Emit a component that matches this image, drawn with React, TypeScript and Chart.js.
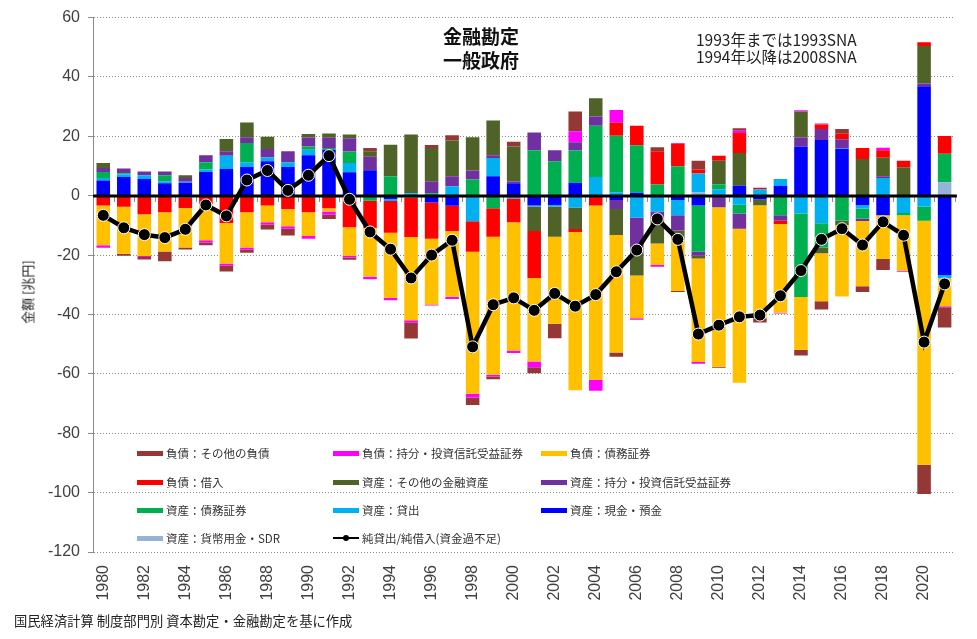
import React, { useEffect, useRef } from 'react';
import { Chart, registerables } from 'chart.js';

Chart.register(...registerables);

const years = [
  '1980', '1981', '1982', '1983', '1984', '1985', '1986', '1987', '1988', '1989',
  '1990', '1991', '1992', '1993', '1994', '1995', '1996', '1997', '1998', '1999',
  '2000', '2001', '2002', '2003', '2004', '2005', '2006', '2007', '2008', '2009',
  '2010', '2011', '2012', '2013', '2014', '2015', '2016', '2017', '2018', '2019',
  '2020', '2021',
];

// 資産：貨幣用金・SDR
const assetGoldSDR = [
  0, 0, 0, 0, 0, 0, 0, 0, 0, 0,
  0, 0, 0, 0, 0, 0, 0, 0, 0, 0,
  0, 0, 0, 0, 0, 0, 0, 0, 0, 1.2,
  0, 0, 0, 0, 0, 0, 0, 0, 0, 0,
  0, 4.5,
];
// 資産：現金・預金
const assetCash = [
  5.1, 6.3, 5.6, 4.2, 4.4, 8.0, 9.0, 9.7, 11.6, 9.7,
  13.6, 15.5, 7.9, 8.6, -1.1, 0, -2.3, -3.4, 0, 6.6,
  4.2, -3.3, -3.1, 4.4, 0, -1.4, 1.0, 0, -1.4, -3.3,
  0, 3.4, -1.3, 3.4, 16.6, 18.8, 15.8, -3.2, -6.6, 0,
  36.9, -26.7,
];
// 資産：貸出
const assetLoans = [
  0.9, 0.9, 1.3, 0.7, 0.3, 0.8, 4.5, 1.6, 1.3, 1.6,
  1.9, 0, 3.1, 0, -0.7, 0.8, 0, 3.2, -8.6, 6.1,
  -0.9, -0.3, -0.5, -4.0, 6.3, 1.2, -7.3, -5.3, -5.2, 6.3,
  2.2, -3.0, 2.2, 2.2, -6.0, -9.3, 0.3, -1.1, 6.0, -5.8,
  -3.6, -1.1,
];
// 資産：債務証券
const assetDebtSec = [
  2.0, 0.4, 0, 2.0, -0.6, 2.5, 0, 6.5, 0, 0,
  1.1, 0.6, 3.9, -1.7, 6.6, -0.7, 0.8, 0, 5.5, -4.2,
  0, 15.3, 11.6, 10.8, 17.3, 19.0, 16.0, 3.8, 9.9, -15.6,
  1.7, -3.0, 0, -6.6, -28.1, -8.1, -8.3, -3.4, 0, -0.8,
  -4.8, 9.6,
];
// 資産：持分・投資信託受益証券
const assetEquity = [
  1.3, 1.6, 1.3, 1.3, 1.3, 2.3, 1.5, 1.9, 2.8, 3.7,
  3.0, 3.4, 4.5, 4.5, 0, 0, 3.9, 3.4, 3.0, 0.9,
  0.6, 6.0, 3.7, 2.8, 3.1, -3.1, -10.2, -2.2, -5.1, -1.3,
  -3.9, -5.1, 0, -1.8, 3.0, 3.7, 2.9, -0.8, 0.6, 0,
  0.9, 0,
];
// 資産：その他の金融資産
const assetOther = [
  1.7, 0, 0, 0, 0.9, 0, 4.1, 5.0, 4.2, 0,
  1.2, 1.5, 1.2, 1.9, 10.6, 19.8, 11.4, 12.0, 11.2, 11.7,
  11.8, -8.3, -10.2, -7.2, 6.1, -8.7, -9.4, -8.6, -3.0, -0.9,
  7.9, 11.0, -1.9, 0, 8.8, -2.0, -1.6, 12.4, 6.2, 9.6,
  12.6, 0,
];
// 負債：借入
const liabBorrowing = [
  -3.3, -3.7, -6.2, -5.6, -3.5, -2.8, -9.2, -5.6, -3.3, -4.5,
  -5.6, -4.2, -10.6, -9.2, -10.7, -13.2, -12.2, -8.5, -10.3, -9.6,
  -8.0, -15.8, 0, -1.0, -3.3, 4.5, 6.6, 11.2, 7.6, 1.3,
  1.7, 6.7, 0.5, -1.1, 0, 1.5, 1.9, 3.7, 2.5, 2.2,
  1.3, 6.0,
];
// 負債：債務証券
const liabDebtSec = [
  -13.4, -15.8, -14.1, -13.2, -13.3, -12.2, -13.6, -11.8, -5.6, -5.8,
  -8.0, -1.1, -9.6, -16.4, -21.9, -28.0, -22.1, -22.1, -47.8, -46.5,
  -43.2, -28.1, -29.3, -53.3, -58.7, -39.6, -14.4, -7.2, -17.4, -34.9,
  -53.7, -51.9, -38.1, -29.9, -17.8, -16.1, -24.0, -22.0, -14.7, -18.7,
  -82.2, -9.4,
];
// 負債：持分・投資信託受益証券
const liabEquity = [
  -0.8, 0, -0.3, 0, 0, -0.8, -0.8, -0.8, -0.8, -0.8,
  -0.9, -1.1, -0.6, -0.8, -0.8, -0.9, -0.4, -0.8, -1.3, -0.6,
  -0.9, -2.0, 0, 3.7, -3.7, 4.2, -0.5, -0.6, 0.3, -0.6,
  0, 0.8, 0, -0.3, 0.4, 0.3, 0, 0, 0.9, -0.3,
  0, -0.4,
];
// 負債：その他の負債
const liabOther = [
  0, -0.7, -0.9, -3.3, -0.7, -0.9, -1.9, -1.0, -1.7, -2.3,
  0, -1.4, -0.8, 1.1, 0, -5.3, 1.0, 1.8, -2.5, -0.9,
  1.6, -2.0, -4.9, 6.7, 0, -1.4, 0, 1.3, -0.3, 3.0,
  -0.3, 0.8, -1.4, 0, -1.9, -2.8, 1.6, -1.9, -3.7, 0,
  -9.9, -6.8,
];
// 純貸出/純借入(資金過不足)
const netLending = [
  -6.6, -10.8, -13.1, -14.1, -11.3, -3.1, -6.8, 5.3, 8.5, 1.8,
  6.9, 13.5, -1.2, -12.2, -18.0, -27.7, -20.0, -15.0, -50.9, -36.7,
  -34.4, -38.6, -32.9, -37.2, -33.3, -25.6, -18.3, -7.8, -14.7, -46.6,
  -43.6, -40.8, -40.2, -33.7, -25.2, -14.7, -11.1, -16.6, -8.8, -13.3,
  -49.3, -29.7,
];

const yMin = -120;
const yMax = 60;
const yStep = 20;

const CJK = '"Noto Sans CJK JP", "Noto Sans", sans-serif';
const NUM = '"Liberation Sans", Arial, sans-serif';

const barSeries = [
  { label: '資産：貨幣用金・SDR', data: assetGoldSDR, color: '#95B3D7' },
  { label: '資産：現金・預金', data: assetCash, color: '#0000FF' },
  { label: '資産：貸出', data: assetLoans, color: '#00B0F0' },
  { label: '資産：債務証券', data: assetDebtSec, color: '#00B050' },
  { label: '資産：持分・投資信託受益証券', data: assetEquity, color: '#7030A0' },
  { label: '資産：その他の金融資産', data: assetOther, color: '#4F6228' },
  { label: '負債：借入', data: liabBorrowing, color: '#FF0000' },
  { label: '負債：債務証券', data: liabDebtSec, color: '#FFC000' },
  { label: '負債：持分・投資信託受益証券', data: liabEquity, color: '#FF00FF' },
  { label: '負債：その他の負債', data: liabOther, color: '#953735' },
];
const lineLabel = '純貸出/純借入(資金過不足)';

// legend order (row-major, 3 columns)
const legendOrder = [9, 8, 7, 6, 5, 4, 3, 2, 1, 0, 10];

const zeroLinePlugin = {
  id: 'zeroLine',
  beforeDatasetDraw(chart: any, args: any) {
    if (args.index !== barSeries.length) return;
    const { ctx, chartArea, scales } = chart;
    const y0 = Math.round(scales.y.getPixelForValue(0));
    const n = years.length;
    const w = (chartArea.right - chartArea.left) / n;
    ctx.save();
    ctx.strokeStyle = '#8c8c8c';
    ctx.lineWidth = 1;
    ctx.beginPath();
    for (let i = 0; i <= n; i++) {
      const x = Math.round(chartArea.left + i * w) + 0.5;
      ctx.moveTo(x, y0);
      ctx.lineTo(x, y0 + 6);
    }
    ctx.stroke();
    ctx.strokeStyle = '#000';
    ctx.lineWidth = 3;
    ctx.beginPath();
    ctx.moveTo(chartArea.left, y0);
    ctx.lineTo(chartArea.right + 2, y0);
    ctx.stroke();
    ctx.restore();
  },
};

export default function App() {
  const canvasRef = useRef<HTMLCanvasElement | null>(null);

  useEffect(() => {
    if (!canvasRef.current) return;
    const datasets: any[] = barSeries.map((s) => ({
      type: 'bar',
      label: s.label,
      data: s.data,
      backgroundColor: s.color,
      borderWidth: 0,
      barPercentage: 0.66,
      categoryPercentage: 1,
      stack: 'flows',
      order: 1,
    }));
    datasets.push({
      type: 'line',
      label: lineLabel,
      data: netLending,
      borderColor: '#000',
      borderWidth: 4.5,
      pointRadius: 6,
      pointBackgroundColor: '#000',
      pointBorderColor: '#ffffff',
      pointBorderWidth: 1,
      tension: 0,
      stack: 'net',
      order: 0,
    });

    const chart = new Chart(canvasRef.current, {
      type: 'bar',
      data: { labels: years, datasets },
      plugins: [zeroLinePlugin],
      options: {
        responsive: false,
        animation: false,
        layout: { padding: { left: 0, right: 16, top: 17, bottom: 0 } },
        plugins: {
          legend: { display: false },
          tooltip: { enabled: false },
        },
        scales: {
          x: {
            stacked: true,
            grid: { display: false, drawTicks: false },
            border: { display: false },
            ticks: {
              autoSkip: false,
              minRotation: 90,
              maxRotation: 90,
              padding: 13,
              color: '#404040',
              font: { family: NUM, size: 16 },
              callback: (_v: any, i: number) => (i % 2 === 0 ? years[i] : ''),
            },
            afterFit: (s: any) => {
              s.height = 87;
            },
          },
          y: {
            stacked: true,
            min: yMin,
            max: yMax,
            ticks: {
              stepSize: yStep,
              padding: 8,
              color: '#404040',
              font: { family: NUM, size: 16 },
            },
            grid: {
              color: (c: any) => (c.tick && c.tick.value === 0 ? 'rgba(0,0,0,0)' : '#8c8c8c'),
              tickColor: '#8c8c8c',
              tickLength: 5,
              lineWidth: 1,
            },
            border: { display: true, color: '#8c8c8c', width: 1, dash: [1, 2] },
            afterFit: (s: any) => {
              s.width = 93;
            },
          },
        },
      } as any,
    });
    return () => chart.destroy();
  }, []);

  const allItems = [
    ...barSeries.map((s) => ({ label: s.label, color: s.color, line: false })),
    { label: lineLabel, color: '#000', line: true },
  ];
  const colX = [137, 333, 541];
  const rowY = [453, 482, 510, 538];

  return (
    <div style={{ position: 'absolute', left: 0, top: 0, width: 977, height: 639, background: '#fff', fontFamily: CJK }}>
      <canvas ref={canvasRef} width={977} height={639} style={{ display: 'block', width: 977, height: 639 }} />
      <div style={{ position: 'absolute', left: 443, top: 24, fontSize: 19, fontWeight: 700, lineHeight: '24px', color: '#111', whiteSpace: 'nowrap' }}>
        <div>金融勘定</div>
        <div>一般政府</div>
      </div>
      <div style={{ position: 'absolute', left: 696, top: 31, fontSize: 15.5, lineHeight: '17px', color: '#222', whiteSpace: 'nowrap' }}>
        <div>1993年までは1993SNA</div>
        <div>1994年以降は2008SNA</div>
      </div>
      <div style={{ position: 'absolute', left: 27, top: 292, transform: 'translate(-50%, -50%) rotate(-90deg)', fontSize: 13, color: '#222', whiteSpace: 'nowrap' }}>
        金額 [兆円]
      </div>
      {legendOrder.map((idx, k) => {
        const it = allItems[idx];
        const col = k % 3;
        const row = Math.floor(k / 3);
        return (
          <div key={idx} style={{ position: 'absolute', left: colX[col], top: rowY[row] - 9, height: 18, display: 'flex', alignItems: 'center', whiteSpace: 'nowrap', fontSize: 11.5, color: '#333' }}>
            {it.line ? (
              <span style={{ position: 'relative', display: 'inline-block', width: 26, height: 18, marginRight: 3 }}>
                <span style={{ position: 'absolute', left: 0, top: 8, width: 26, height: 2, background: '#000' }} />
                <span style={{ position: 'absolute', left: 10, top: 6, width: 6, height: 6, borderRadius: 3, background: '#000' }} />
              </span>
            ) : (
              <span style={{ display: 'inline-block', width: 26, height: 5, background: it.color, marginRight: 3 }} />
            )}
            <span>{it.label}</span>
          </div>
        );
      })}
      <div style={{ position: 'absolute', left: 14, top: 611, fontSize: 13.3, color: '#222', whiteSpace: 'nowrap' }}>
        国民経済計算 制度部門別 資本勘定・金融勘定を基に作成
      </div>
    </div>
  );
}
